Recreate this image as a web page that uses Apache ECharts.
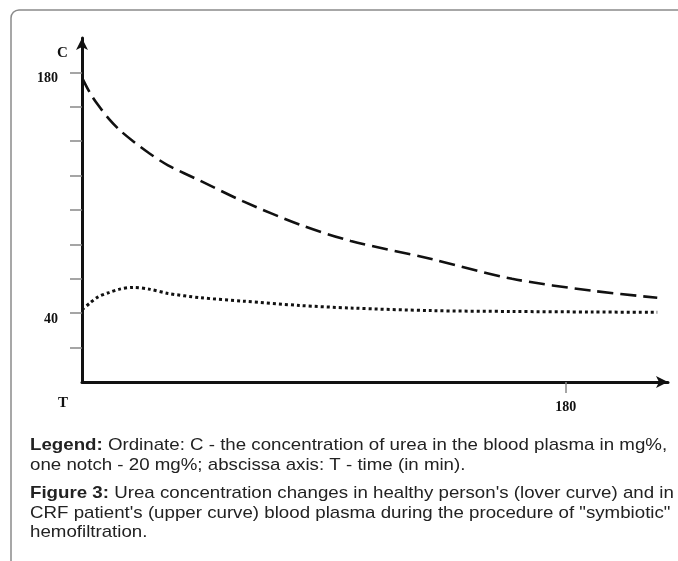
<!DOCTYPE html>
<html>
<head>
<meta charset="utf-8">
<script src="https://cdn.jsdelivr.net/npm/echarts@6/dist/echarts.min.js"></script>
<style>
  html, body { margin: 0; padding: 0; background: #fff; }
  #main { width: 678px; height: 561px; }
</style>
</head>
<body>
<div id="main"></div>
<script>
// time in minutes (abscissa)
var timeMin = [0, 3, 6, 10, 14, 19, 25, 32, 44, 60, 81, 100, 130, 160, 190, 214];
// upper curve - CRF patient
var upperCurve = [177, 168, 161, 153, 146.5, 140, 133, 126, 117, 105, 91.5, 82, 71.5, 60, 53, 49];
// lower curve - healthy person
var lowerCurve = [42, 46, 49.5, 52, 54, 55, 54, 51.5, 49, 47, 44.5, 43, 41.5, 41, 40.7, 40.5];
var yTicks = [20, 40, 60, 80, 100, 120, 140, 160, 180];
var yLabels = [40, 180];
var xTicks = [180];

function pairs(xs, ys) {
    return xs.map(function (x, i) { return [x, ys[i]]; });
}

var myChart = echarts.init(document.getElementById('main'));

var serif = "'Liberation Serif', 'Times New Roman', serif";
var sans = "'Liberation Sans', Arial, sans-serif";
var capFont = '17px ' + sans;
var capRich = { b: { fontFamily: sans, fontSize: 17, fontWeight: 'bold', color: '#222' } };

function captionLine(text, top) {
    return {
        type: 'text', x: 30, y: top, scaleX: 1.1,
        style: { text: text, font: capFont, fill: '#222', rich: capRich }
    };
}

var option = {
    backgroundColor: '#fff',
    animation: false,
    grid: { left: 82, right: 10, top: 38, bottom: 179, containLabel: false },
    xAxis: {
        type: 'value',
        min: 0,
        max: 218,
        splitLine: { show: false },
        axisLine: {
            lineStyle: { color: '#111', width: 3 },
            symbol: ['none', 'arrow'],
            symbolSize: [9, 12]
        },
        axisTick: {
            customValues: xTicks,
            length: 11,
            lineStyle: { color: '#888', width: 1.5 }
        },
        axisLabel: {
            customValues: xTicks,
            margin: 18,
            color: '#111',
            fontFamily: serif,
            fontWeight: 'bold',
            fontSize: 14
        }
    },
    yAxis: {
        type: 'value',
        min: 0,
        max: 200,
        splitLine: { show: false },
        axisLine: {
            lineStyle: { color: '#111', width: 3 },
            symbol: ['none', 'arrow'],
            symbolSize: [9, 12]
        },
        axisTick: {
            customValues: yTicks,
            length: 12,
            lineStyle: { color: '#888', width: 1.5 }
        },
        axisLabel: {
            customValues: yLabels,
            margin: 24,
            verticalAlign: 'top',
            lineHeight: 12,
            color: '#111',
            fontFamily: serif,
            fontWeight: 'bold',
            fontSize: 14
        }
    },
    series: [
        {
            name: 'CRF patient',
            type: 'line',
            smooth: 0.3,
            showSymbol: false,
            data: pairs(timeMin, upperCurve),
            lineStyle: { color: '#111', width: 2.6, type: [16, 7] }
        },
        {
            name: 'Healthy person',
            type: 'line',
            smooth: 0.3,
            showSymbol: false,
            data: pairs(timeMin, lowerCurve),
            lineStyle: { color: '#111', width: 3, type: [3, 3] }
        }
    ],
    graphic: [
        {
            type: 'rect',
            shape: { x: 11, y: 10, width: 720, height: 620, r: 8 },
            style: { fill: 'none', stroke: '#8a8a8a', lineWidth: 1.5 },
            silent: true
        },
        { type: 'text', left: 57, top: 46, style: { text: 'C', font: 'bold 15px ' + serif, fill: '#111' } },
        { type: 'text', left: 58, top: 396, style: { text: 'T', font: 'bold 15px ' + serif, fill: '#111' } },
        captionLine('{b|Legend:} Ordinate: C - the concentration of urea in the blood plasma in mg%,', 437),
        captionLine('one notch - 20 mg%; abscissa axis: T - time (in min).', 457),
        captionLine('{b|Figure 3:} Urea concentration changes in healthy person\'s (lover curve) and in', 485),
        captionLine('CRF patient\'s (upper curve) blood plasma during the procedure of "symbiotic"', 505),
        captionLine('hemofiltration.', 524)
    ]
};
myChart.setOption(option);
</script>
</body>
</html>
